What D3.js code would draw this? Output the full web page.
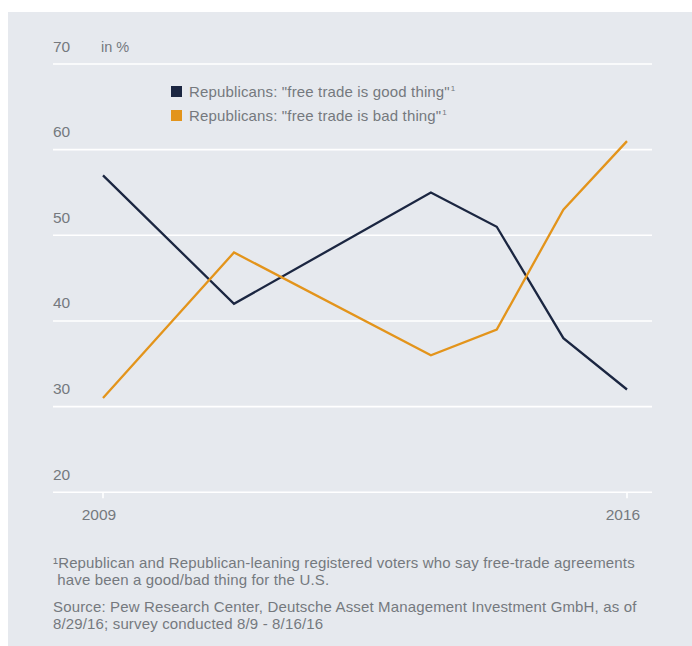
<!DOCTYPE html>
<html>
<head>
<meta charset="utf-8">
<script src="https://cdn.jsdelivr.net/npm/d3@7"></script>
<style>
  html, body { margin: 0; padding: 0; background: #fff; }
  svg { display: block; }
  text { font-family: "Liberation Sans", Arial, sans-serif; fill: #75797e; }
</style>
</head>
<body>
<script>
// survey dates as fractional years
const years = [2009, 2010.75, 2013.38, 2014.26, 2015.15, 2016];
const goodThing = [57, 42, 55, 51, 38, 32];
const badThing = [31, 48, 36, 39, 53, 61];
const yTicks = [20, 30, 40, 50, 60, 70];
const xTicks = [2009, 2016];
const seriesNames = ['Republicans: "free trade is good thing"', 'Republicans: "free trade is bad thing"'];
const footnotes = [
  ['\u00b9Republican and Republican-leaning registered voters who say free-trade agreements',
   ' have been a good/bad thing for the U.S.'],
  ['Source: Pew Research Center, Deutsche Asset Management Investment GmbH, as of',
   '8/29/16; survey conducted 8/9 - 8/16/16']
];

const width = 692;
const height = 646;
const colors = ['#1b2641', '#e3941b'];

const svg = d3.select('body')
  .append('svg')
  .attr('width', width)
  .attr('height', height);

// grey panel
svg.append('rect')
  .attr('x', 8)
  .attr('y', 12)
  .attr('width', width - 8)
  .attr('height', height - 12)
  .attr('fill', '#e6e9ee');

const x = d3.scaleLinear().domain([2009, 2016]).range([103, 627]);
const y = d3.scaleLinear().domain([20, 70]).range([492.3, 64]);

// horizontal grid lines with labels sitting above them
const grid = svg.append('g');
grid.selectAll('line')
  .data(yTicks)
  .join('line')
  .attr('x1', 53)
  .attr('x2', 652)
  .attr('y1', (d) => y(d))
  .attr('y2', (d) => y(d))
  .attr('stroke', '#fff')
  .attr('stroke-width', 1.6);

grid.selectAll('text')
  .data(yTicks)
  .join('text')
  .attr('x', 53)
  .attr('y', (d) => y(d) - 12.5)
  .attr('font-size', 15.5)
  .text((d) => d);

svg.append('text')
  .attr('x', 101)
  .attr('y', y(70) - 12.5)
  .attr('font-size', 14.5)
  .text('in %');

// x ticks
const xAxis = svg.append('g');
xAxis.selectAll('line')
  .data(xTicks)
  .join('line')
  .attr('x1', (d) => x(d))
  .attr('x2', (d) => x(d))
  .attr('y1', y(20))
  .attr('y2', y(20) + 6)
  .attr('stroke', '#fff')
  .attr('stroke-width', 1.6);

xAxis.selectAll('text')
  .data(xTicks)
  .join('text')
  .attr('x', (d) => x(d) - 4)
  .attr('y', 520)
  .attr('text-anchor', 'middle')
  .attr('font-size', 15.5)
  .text((d) => d);

// lines
const line = d3.line()
  .x((d) => x(d[0]))
  .y((d) => y(d[1]));

[goodThing, badThing].forEach((values, i) => {
  svg.append('path')
    .datum(d3.zip(years, values))
    .attr('d', line)
    .attr('fill', 'none')
    .attr('stroke', colors[i])
    .attr('stroke-width', 2.3)
    .attr('stroke-linejoin', 'miter');
});

// legend
const legend = svg.append('g').attr('transform', 'translate(171, 86)');
const item = legend.selectAll('g')
  .data(seriesNames)
  .join('g')
  .attr('transform', (d, i) => `translate(0, ${i * 24})`);
item.append('rect')
  .attr('width', 11)
  .attr('height', 11)
  .attr('fill', (d, i) => colors[i]);
const label = item.append('text')
  .attr('x', 18)
  .attr('y', 11)
  .attr('font-size', 15)
  .attr('letter-spacing', 0.15);
label.append('tspan').text((d) => d);
label.append('tspan')
  .attr('font-size', 8)
  .attr('dx', 1)
  .attr('dy', -6)
  .text('1');

// footnotes
footnotes.forEach((lines, k) => {
  lines.forEach((t, j) => {
    svg.append('text')
      .attr('x', 53)
      .attr('y', 568 + k * 44 + j * 17)
      .attr('font-size', 15)
      .attr('letter-spacing', 0.15)
      .attr('xml:space', 'preserve')
      .style('white-space', 'pre')
      .text(t);
  });
});
</script>
</body>
</html>
